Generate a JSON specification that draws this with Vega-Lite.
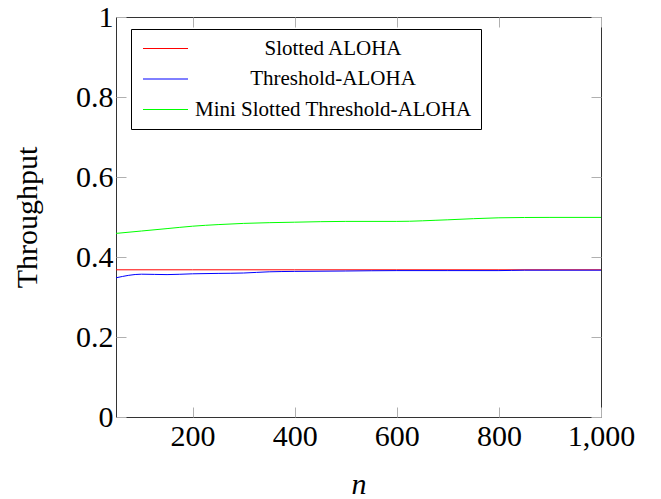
{
  "$schema": "https://vega.github.io/schema/vega-lite/v6.json",
  "width": 485,
  "height": 400,
  "autosize": {"type": "none"},
  "padding": {"left": 116, "top": 17, "right": 60, "bottom": 82},
  "background": "white",
  "config": {
    "view": {"stroke": "#333333", "strokeWidth": 1},
    "font": "Times New Roman, Liberation Serif, serif",
    "axis": {
      "grid": false,
      "domain": false,
      "tickColor": "#b0b0b0",
      "tickWidth": 1,
      "tickSize": -10,
      "labelFlush": false,
      "labelOverlap": false,
      "labelFont": "Times New Roman, Liberation Serif, serif",
      "labelFontSize": 30,
      "labelColor": "#000000",
      "titleFont": "Times New Roman, Liberation Serif, serif",
      "titleFontSize": 30,
      "titleColor": "#000000",
      "titleFontWeight": "normal"
    },
    "legend": {
      "labelFont": "Times New Roman, Liberation Serif, serif",
      "labelFontSize": 21,
      "labelColor": "#000000"
    }
  },
  "data": {
    "values": [
      {"n": 50, "v": 0.368, "s": "Slotted ALOHA"},
      {"n": 200, "v": 0.368, "s": "Slotted ALOHA"},
      {"n": 400, "v": 0.368, "s": "Slotted ALOHA"},
      {"n": 600, "v": 0.368, "s": "Slotted ALOHA"},
      {"n": 800, "v": 0.368, "s": "Slotted ALOHA"},
      {"n": 1000, "v": 0.368, "s": "Slotted ALOHA"},
      {"n": 50, "v": 0.348, "s": "Threshold-ALOHA"},
      {"n": 100, "v": 0.357, "s": "Threshold-ALOHA"},
      {"n": 150, "v": 0.356, "s": "Threshold-ALOHA"},
      {"n": 200, "v": 0.358, "s": "Threshold-ALOHA"},
      {"n": 250, "v": 0.359, "s": "Threshold-ALOHA"},
      {"n": 300, "v": 0.36, "s": "Threshold-ALOHA"},
      {"n": 350, "v": 0.363, "s": "Threshold-ALOHA"},
      {"n": 400, "v": 0.364, "s": "Threshold-ALOHA"},
      {"n": 500, "v": 0.365, "s": "Threshold-ALOHA"},
      {"n": 600, "v": 0.366, "s": "Threshold-ALOHA"},
      {"n": 700, "v": 0.366, "s": "Threshold-ALOHA"},
      {"n": 800, "v": 0.366, "s": "Threshold-ALOHA"},
      {"n": 850, "v": 0.367, "s": "Threshold-ALOHA"},
      {"n": 900, "v": 0.367, "s": "Threshold-ALOHA"},
      {"n": 1000, "v": 0.367, "s": "Threshold-ALOHA"},
      {"n": 50, "v": 0.459, "s": "Mini Slotted Threshold-ALOHA"},
      {"n": 100, "v": 0.465, "s": "Mini Slotted Threshold-ALOHA"},
      {"n": 150, "v": 0.471, "s": "Mini Slotted Threshold-ALOHA"},
      {"n": 200, "v": 0.477, "s": "Mini Slotted Threshold-ALOHA"},
      {"n": 250, "v": 0.481, "s": "Mini Slotted Threshold-ALOHA"},
      {"n": 300, "v": 0.484, "s": "Mini Slotted Threshold-ALOHA"},
      {"n": 400, "v": 0.487, "s": "Mini Slotted Threshold-ALOHA"},
      {"n": 500, "v": 0.489, "s": "Mini Slotted Threshold-ALOHA"},
      {"n": 600, "v": 0.489, "s": "Mini Slotted Threshold-ALOHA"},
      {"n": 700, "v": 0.493, "s": "Mini Slotted Threshold-ALOHA"},
      {"n": 800, "v": 0.498, "s": "Mini Slotted Threshold-ALOHA"},
      {"n": 900, "v": 0.499, "s": "Mini Slotted Threshold-ALOHA"},
      {"n": 1000, "v": 0.499, "s": "Mini Slotted Threshold-ALOHA"}
    ]
  },
  "layer": [
    {
      "mark": {"type": "line", "strokeWidth": 1, "interpolate": "monotone"},
      "encoding": {
        "x": {
          "field": "n", "type": "quantitative",
          "scale": {"domain": [50, 1000], "nice": false, "zero": false},
          "axis": {"orient": "bottom", "values": [200, 400, 600, 800, 1000], "title": "n", "titleFontStyle": "italic", "labelPadding": 14, "titlePadding": 18}
        },
        "y": {
          "field": "v", "type": "quantitative",
          "scale": {"domain": [0, 1], "nice": false},
          "axis": {"orient": "left", "values": [0, 0.2, 0.4, 0.6, 0.8, 1], "format": ".1~f", "title": "Throughput", "labelPadding": 13, "titlePadding": 33}
        },
        "color": {
          "field": "s", "type": "nominal",
          "scale": {
            "domain": ["Slotted ALOHA", "Threshold-ALOHA", "Mini Slotted Threshold-ALOHA"],
            "range": ["#ff0000", "#0000ff", "#00ff00"]
          },
          "legend": {
            "title": null,
            "orient": "none",
            "legendX": 15,
            "legendY": 12,
            "symbolType": "M-1,0H5",
            "symbolSize": 225,
            "symbolStrokeWidth": 1,
            "labelAlign": "center",
            "labelOffset": 172,
            "labelLimit": 400,
            "rowPadding": 8.5,
            "padding": 9,
            "strokeColor": "#000000",
            "fillColor": "white"
          }
        }
      }
    },
    {
      "mark": {"type": "line", "strokeOpacity": 0},
      "encoding": {
        "x": {
          "field": "n", "type": "quantitative",
          "axis": {"orient": "top", "values": [200, 400, 600, 800, 1000], "labels": false, "title": null}
        },
        "y": {
          "field": "v", "type": "quantitative",
          "axis": {"orient": "right", "values": [0, 0.2, 0.4, 0.6, 0.8, 1], "labels": false, "title": null}
        },
        "detail": {"field": "s", "type": "nominal"}
      }
    }
  ],
  "resolve": {"axis": {"x": "independent", "y": "independent"}}
}
